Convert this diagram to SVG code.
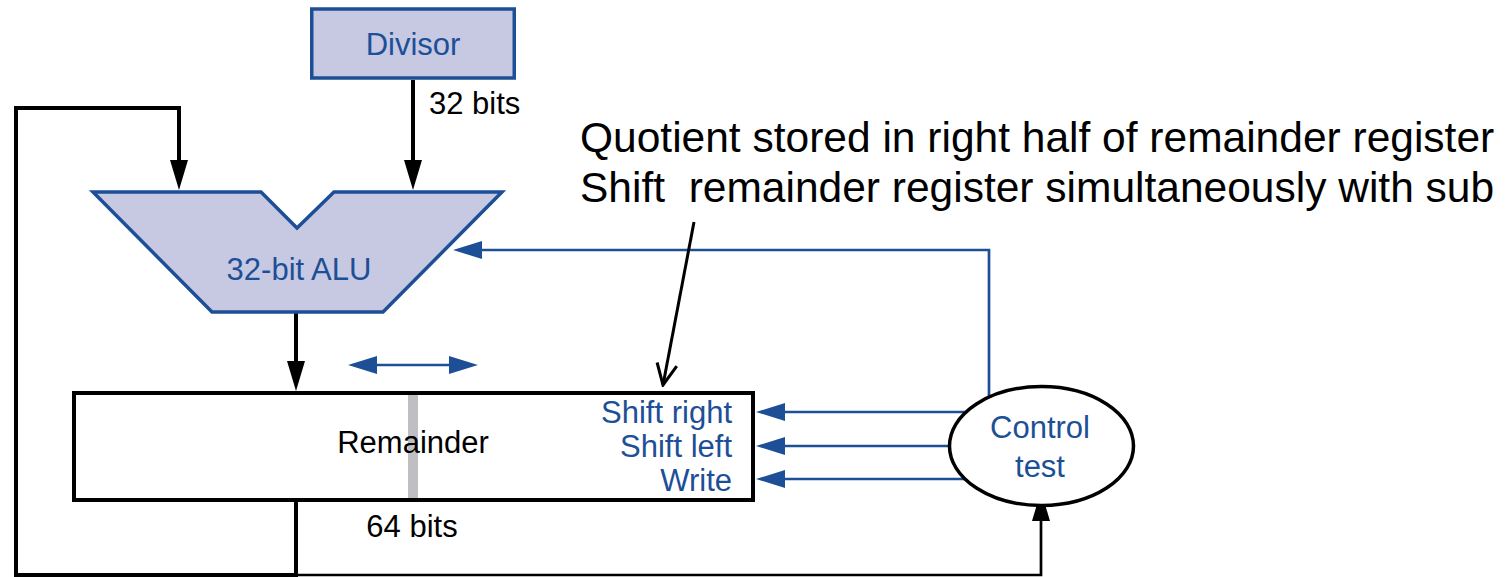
<svg xmlns="http://www.w3.org/2000/svg" width="1511" height="577" viewBox="0 0 1511 577">
  <style>
    .lbl { font-family: "Liberation Sans", Arial, Helvetica, sans-serif; font-size: 31px; }
    .blue { fill: #1d4f97; }
    .black { fill: #000; }
    .note { font-family: "Liberation Sans", Arial, Helvetica, sans-serif; font-size: 42.5px; fill: #000; white-space: pre; }
    .wire { fill: none; stroke: #000; stroke-width: 4; stroke-linejoin: miter; }
    .wire-thin { fill: none; stroke: #000; stroke-width: 2.7; }
    .ctl { fill: none; stroke: #1d4f97; stroke-width: 2.7; }
    .unit { fill: #c7c9e3; stroke: #1d4f97; stroke-width: 3.5; stroke-linejoin: miter; }
  </style>
  <defs>
    <marker id="arrow-black" viewBox="0 0 30 18" refX="22" refY="9" markerWidth="30" markerHeight="18" markerUnits="userSpaceOnUse" orient="auto">
      <path d="M0,0 L30,9 L0,18 Z" fill="#000"/>
    </marker>
    <marker id="arrow-blue" viewBox="0 0 29 18" refX="21" refY="9" markerWidth="29" markerHeight="18" markerUnits="userSpaceOnUse" orient="auto-start-reverse">
      <path d="M0,0 L29,9 L0,18 Z" fill="#1d4f97"/>
    </marker>
    <marker id="arrow-open" viewBox="-24 -12 26 24" refX="0" refY="0" markerWidth="26" markerHeight="24" markerUnits="userSpaceOnUse" orient="auto">
      <path d="M-21,-10 L0,0 L-21,10" fill="none" stroke="#000" stroke-width="3" stroke-linejoin="miter"/>
    </marker>
  </defs>

  <!-- wiring between the datapath blocks -->
  <g id="connectors">
    <path class="wire" d="M413,80 V182" marker-end="url(#arrow-black)"/>
    <path class="wire" d="M296,500 V575 H16 V108 H179 V182" marker-end="url(#arrow-black)"/>
    <path class="wire" d="M296,312 V383" marker-end="url(#arrow-black)"/>
    <path class="wire-thin" d="M296,575 H1041 V499" marker-end="url(#arrow-black)"/>
    <path class="ctl" d="M989,400 V250 H461" marker-end="url(#arrow-blue)"/>
    <path class="ctl" d="M1000,412 H764" marker-end="url(#arrow-blue)"/>
    <path class="ctl" d="M1000,446 H764" marker-end="url(#arrow-blue)"/>
    <path class="ctl" d="M1000,479 H764" marker-end="url(#arrow-blue)"/>
    <path class="ctl" d="M356,365 H470" marker-start="url(#arrow-blue)" marker-end="url(#arrow-blue)"/>
    <path d="M694,222 L663,385" fill="none" stroke="#000" stroke-width="3" marker-end="url(#arrow-open)"/>
  </g>

  <g id="divisor">
    <rect class="unit" x="311.75" y="9" width="202.5" height="69"/>
    <text class="lbl blue" x="413" y="55" text-anchor="middle">Divisor</text>
  </g>
  <text class="lbl black" x="429" y="114">32 bits</text>

  <g id="alu">
    <polygon class="unit" points="93,192 261,192 297,228 334,192 502,192 383,312 212,312"/>
    <text class="lbl blue" x="299" y="280" text-anchor="middle">32-bit ALU</text>
  </g>

  <g id="remainder">
    <rect x="74" y="393" width="679" height="107" fill="#fff" stroke="#000" stroke-width="4"/>
    <rect x="408" y="395" width="10" height="103" fill="#bfbfc3"/>
    <text class="lbl black" x="413" y="453" text-anchor="middle">Remainder</text>
    <text class="lbl blue" x="732" y="423" text-anchor="end">Shift right</text>
    <text class="lbl blue" x="732" y="457" text-anchor="end">Shift left</text>
    <text class="lbl blue" x="732" y="491" text-anchor="end">Write</text>
  </g>
  <text class="lbl black" x="412" y="537" text-anchor="middle">64 bits</text>

  <g id="control">
    <ellipse cx="1041.5" cy="446" rx="92" ry="59.5" fill="#fff" stroke="#000" stroke-width="3.5"/>
    <text class="lbl blue" x="1040" y="438" text-anchor="middle">Control</text>
    <text class="lbl blue" x="1040" y="477" text-anchor="middle">test</text>
  </g>

  <g id="annotation">
    <text class="note" x="580" y="152">Quotient stored in right half of remainder register</text>
    <text class="note" x="580" y="202">Shift  remainder register simultaneously with sub</text>
  </g>
</svg>
